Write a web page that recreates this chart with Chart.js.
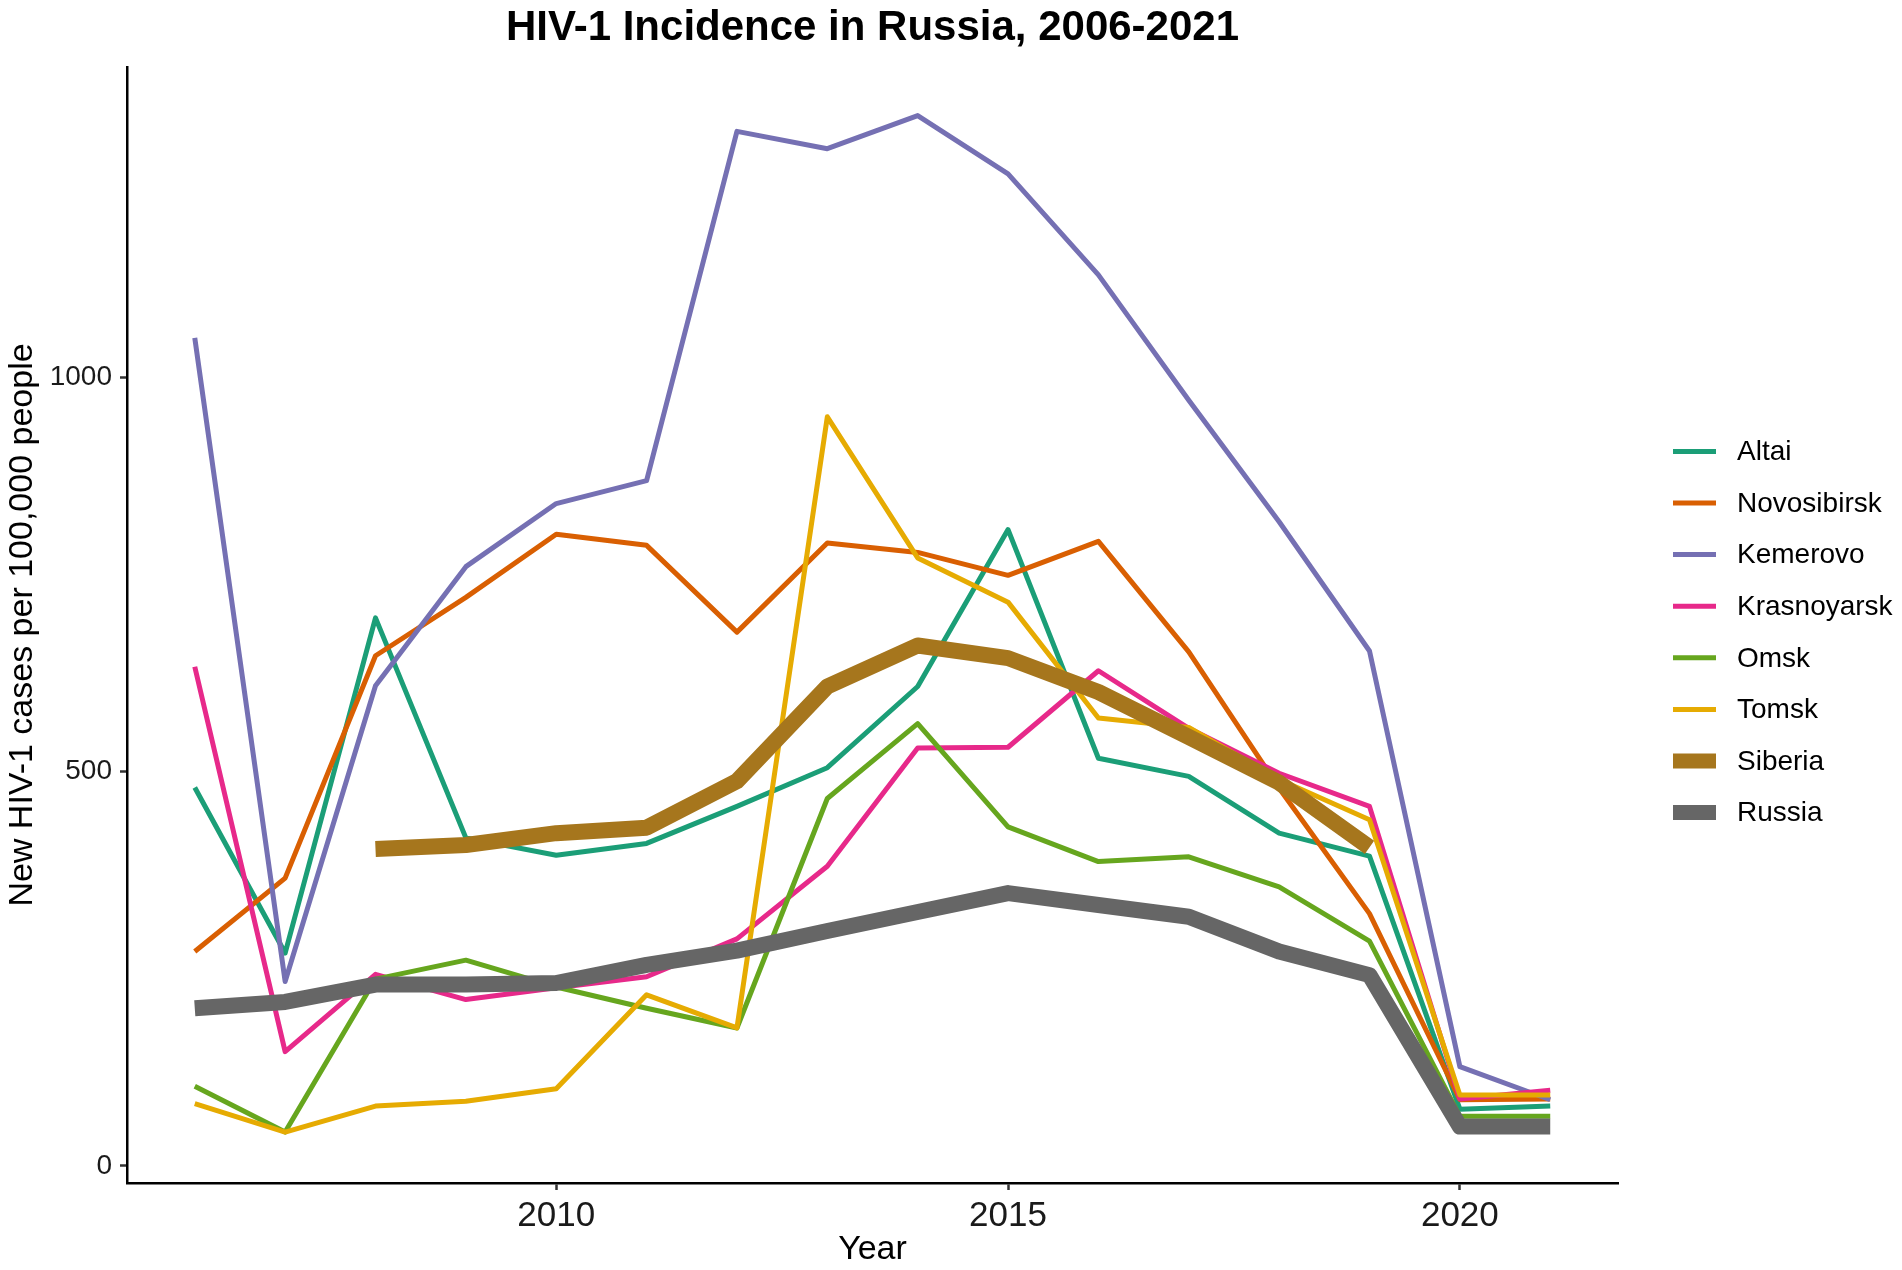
<!DOCTYPE html>
<html>
<head>
<meta charset="utf-8">
<script src="https://cdn.jsdelivr.net/npm/chart.js@4.4.1/dist/chart.umd.min.js"></script>
<style>
  html, body { margin: 0; padding: 0; background: #fff; }
  #wrap { width: 1902px; height: 1270px; }
</style>
</head>
<body>
<div id="wrap"><canvas id="hivChart"></canvas></div>
<script>
const years = [2006, 2007, 2008, 2009, 2010, 2011, 2012, 2013, 2014, 2015, 2016, 2017, 2018, 2019, 2020, 2021];

const altai       = [480, 270, 695, 416, 394, 409, 456, 505, 608, 807, 517, 494, 422, 393, 72, 76];
const novosibirsk = [272, 365, 647, 721, 801, 787, 677, 790, 778, 749, 792, 652, 479, 320, 84, 85];
const kemerovo    = [1050, 234, 609, 760, 840, 869, 1312, 1290, 1332, 1258, 1130, 971, 817, 653, 126, 84];
const krasnoyarsk = [633, 145, 243, 211, 226, 240, 288, 380, 530, 531, 628, 555, 498, 456, 85, 96];
const omsk        = [101, 43, 237, 261, 227, 200, 175, 466, 561, 430, 386, 392, 354, 285, 63, 63];
const tomsk       = [79, 43, 76, 82, 98, 217, 175, 950, 771, 715, 568, 556, 490, 439, 90, 90];
const siberia     = [null, null, 402, 407, 422, 429, 488, 608, 660, 644, 601, 544, 486, 404, null, null];
const russia      = [200, 208, 230, 230, 232, 255, 273, 298, 322, 346, 331, 316, 272, 242, 50, 50];

const regionNames  = ["Altai", "Novosibirsk", "Kemerovo", "Krasnoyarsk", "Omsk", "Tomsk", "Siberia", "Russia"];
const regionSeries = [altai, novosibirsk, kemerovo, krasnoyarsk, omsk, tomsk, siberia, russia];
const regionColors = ["#1B9E77", "#D95F02", "#7570B3", "#E7298A", "#66A61E", "#E6AB02", "#A6761D", "#666666"];
const regionWidths = [5, 5, 5, 5, 5, 5, 16, 16];

const xTicks = [2010, 2015, 2020];
const yTicks = [0, 500, 1000];

Chart.defaults.font.family = "'Liberation Sans', Arial, sans-serif";

// legend drawn to the right of the plot, ggplot style
const sideLegend = {
    id: "sideLegend",
    afterDraw(chart) {
        const { ctx, chartArea } = chart;
        const sets = chart.data.datasets;
        const rowH = 51.6;
        const x0 = chartArea.right + 55;
        const y0 = (chartArea.top + chartArea.bottom) / 2 - rowH * (sets.length - 1) / 2 + 7;
        ctx.save();
        ctx.font = "28px 'Liberation Sans', Arial, sans-serif";
        ctx.textBaseline = "middle";
        ctx.textAlign = "left";
        sets.forEach((ds, i) => {
            const y = y0 + i * rowH;
            ctx.strokeStyle = ds.borderColor;
            ctx.lineWidth = Math.min(ds.borderWidth, 15);
            ctx.lineCap = "butt";
            ctx.beginPath();
            ctx.moveTo(x0, y);
            ctx.lineTo(x0 + 43, y);
            ctx.stroke();
            ctx.fillStyle = "#000";
            ctx.fillText(ds.label, x0 + 64, y + 1);
        });
        ctx.restore();
    }
};

const datasets = regionNames.map((name, i) => ({
    label: name,
    data: years.map((yr, j) => ({ x: yr, y: regionSeries[i][j] })),
    borderColor: regionColors[i],
    backgroundColor: regionColors[i],
    borderWidth: regionWidths[i],
    borderCapStyle: "butt",
    borderJoinStyle: "round",
    pointRadius: 0,
    tension: 0,
    fill: false,
    spanGaps: false,
    order: regionNames.length - i
}));

const ctx = document.getElementById("hivChart").getContext("2d");
new Chart(ctx, {
    type: "line",
    data: { datasets: datasets },
    plugins: [sideLegend],
    options: {
        responsive: true,
        maintainAspectRatio: false,
        devicePixelRatio: 1,
        animation: false,
        layout: { padding: { left: 2, right: 284, top: 0, bottom: 0 } },
        plugins: {
            legend: { display: false },
            tooltip: { enabled: false },
            title: {
                display: true,
                text: "HIV-1 Incidence in Russia, 2006-2021",
                fullSize: false,
                color: "#000",
                font: { size: 42, weight: "bold", lineHeight: 1.2 },
                padding: { top: 3, bottom: 13.6 }
            }
        },
        scales: {
            x: {
                type: "linear",
                min: 2005.25,
                max: 2021.75,
                afterBuildTicks: (axis) => { axis.ticks = xTicks.map(v => ({ value: v })); },
                afterFit: (axis) => { axis.height = 87; },
                ticks: {
                    color: "#1a1a1a",
                    font: { size: 35 },
                    padding: 5,
                    maxRotation: 0,
                    callback: (v) => String(v)
                },
                grid: { drawOnChartArea: false, drawTicks: true, tickLength: 7, tickColor: "#333", tickWidth: 2.5 },
                border: { display: true, color: "#000", width: 2.5 },
                title: {
                    display: true,
                    text: "Year",
                    color: "#000",
                    font: { size: 34, lineHeight: 1.2 },
                    padding: { top: 0, bottom: 0 }
                }
            },
            y: {
                type: "linear",
                min: -21.6,
                max: 1393.6,
                afterBuildTicks: (axis) => { axis.ticks = yTicks.map(v => ({ value: v })); },
                afterFit: (axis) => { axis.width = 125; },
                ticks: {
                    color: "#1a1a1a",
                    font: { size: 28 },
                    padding: 8,
                    callback: (v) => String(v)
                },
                grid: { drawOnChartArea: false, drawTicks: true, tickLength: 7, tickColor: "#333", tickWidth: 2.5 },
                border: { display: true, color: "#000", width: 2.5 },
                title: {
                    display: true,
                    text: "New HIV-1 cases per 100,000 people",
                    color: "#000",
                    font: { size: 34, lineHeight: 1.2 },
                    padding: { top: 0, bottom: 0 }
                }
            }
        }
    }
});
</script>
</body>
</html>
